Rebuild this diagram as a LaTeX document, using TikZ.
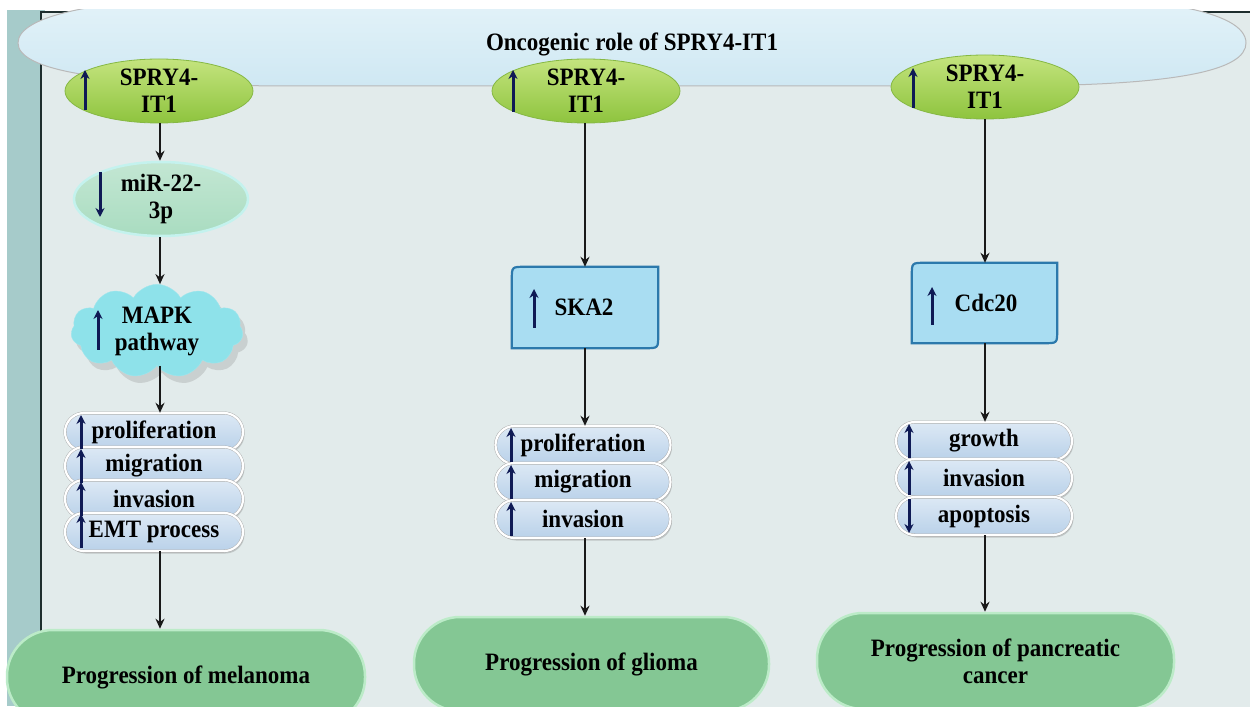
\documentclass[tikz,border=0pt]{standalone}
\usepackage{fontspec}
\setmainfont{Liberation Serif}[FakeStretch=0.92]
\usetikzlibrary{shapes.geometric,shapes.symbols,shapes.misc,arrows.meta,shadows,calc}
\definecolor{tealstrip}{HTML}{A6CBCA}
\definecolor{panelc}{HTML}{E2EBEB}
\definecolor{panelborder}{HTML}{1E2E2E}
\definecolor{topell}{HTML}{CFE8F3}
\definecolor{topelllight}{HTML}{E4F3F9}
\definecolor{grtop}{HTML}{C4E47E}
\definecolor{grbot}{HTML}{8EC43E}
\definecolor{grborder}{HTML}{86B844}
\definecolor{mirfill}{HTML}{A9DCC0}
\definecolor{mirborder}{HTML}{C4F2EE}
\definecolor{cloudc}{HTML}{8EE2EA}
\definecolor{boxfill}{HTML}{A9DDF2}
\definecolor{boxborder}{HTML}{2C79AC}
\definecolor{pilltop}{HTML}{DDE9F5}
\definecolor{pillbot}{HTML}{B9D1E9}
\definecolor{bigfill}{HTML}{84C794}
\definecolor{bigborder}{HTML}{BCEBC8}
\definecolor{navy}{HTML}{0F1A55}
\tikzset{
  lab/.style={font=\bfseries\fontsize{25}{27}\selectfont, text=black, align=center},
  spry/.style={ellipse, lab, minimum width=188pt, minimum height=64pt, inner sep=0pt,
    top color=grtop, bottom color=grbot, draw=grborder, line width=0.8pt},
  mirnode/.style={ellipse, lab, minimum width=174pt, minimum height=74pt, inner sep=0pt,
    top color=mirfill!70!white, bottom color=mirfill, draw=mirborder, line width=2.5pt},
  cloudnode/.style={cloud, cloud puffs=11, cloud puff arc=120, aspect=2.4, lab,
    minimum width=172pt, minimum height=72pt, inner sep=0pt, fill=cloudc, draw=cloudc!85!white,
    drop shadow={opacity=0.25, shadow xshift=5pt, shadow yshift=-7pt}},
  boxnode/.style={rectangle, lab, inner sep=0pt},
  boxshape/.style={fill=boxfill, draw=boxborder, line width=2.2pt},
  pill/.style={rectangle, rounded corners=19pt, lab, minimum height=38pt, inner sep=0pt,
    top color=pilltop, bottom color=pillbot, draw=gray!70, double=white, double distance=2.2pt,
    drop shadow={opacity=0.35, shadow xshift=1.5pt, shadow yshift=-2.5pt}},
  bigpill/.style={rectangle, rounded corners=46pt, lab,
    inner sep=0pt, fill=bigfill, draw=bigborder, line width=2.5pt},
  conn/.style={draw=black!90, line width=2pt, -{Stealth[length=10pt,width=9pt]}},
  indic/.style={draw=navy, line width=3pt, -{Stealth[length=9pt,width=9pt]}}
}
\begin{document}
\begin{tikzpicture}[x=1pt,y=-1pt]
\useasboundingbox (0,0) rectangle (1250,708);
\fill[white] (0,0) rectangle (1250,708);
\begin{scope}
\clip (0,10) rectangle (1250,706);
% background panel
\fill[tealstrip] (7,10) rectangle (45,706);
\filldraw[fill=panelc, draw=panelborder, line width=1.2pt] (41,12) rectangle (1262,720);
% top ellipse
\path[top color=topelllight, bottom color=topell, draw=gray!55, line width=1pt]
  (18,43) .. controls (18,70) and (100,86) .. (300,86) -- (1000,86)
  .. controls (1180,86) and (1246,70) .. (1246,43)
  .. controls (1246,10) and (1150,-5) .. (1000,-5) -- (300,-5)
  .. controls (100,-5) and (18,15) .. (18,43) -- cycle;
\node[lab] (title) at (632,44) {Oncogenic role of SPRY4-IT1};

% ===== column 1 =====
\node[spry] (s1) at (159,91) {SPRY4-\\IT1};
\node[mirnode] (m1) at (161,199) {miR-22-\\3p};
\node[cloudnode] (k1) at (157,331) {MAPK\\pathway};
\node[pill, minimum width=178pt] (p1a) at (154,432) {proliferation};
\node[pill, minimum width=178pt] (p1b) at (154,466) {migration};
\node[pill, minimum width=178pt] (p1c) at (154,499) {invasion};
\node[pill, minimum width=178pt] (p1d) at (154,532) {EMT process};
\node[bigpill, minimum width=358pt, minimum height=94pt] (g1) at (186,677) {Progression of melanoma};

\draw[conn] (s1.south -| 160,0) -- (m1.north -| 160,0);
\draw[conn] (m1.south -| 160,0) -- (k1.north -| 160,0);
\draw[conn] (k1.south -| 160,0) -- (p1a.north -| 160,0);
\draw[conn] (p1d.south -| 160,0) -- (g1.north -| 160,0);

\draw[indic] (85,110) -- (85,70);
\draw[indic] (100,172) -- (100,217);
\draw[indic] (98,350) -- (98,310);
\draw[indic] (81,449) -- (81,415);
\draw[indic] (81,483) -- (81,449);
\draw[indic] (81,516) -- (81,482);
\draw[indic] (81,548) -- (81,514);

% ===== column 2 =====
\node[spry] (s2) at (586,91) {SPRY4-\\IT1};
\node[boxnode, minimum width=146pt, minimum height=81pt] (b2) at (585,307.5) {};
\path[boxshape] (b2.south west) -- ([yshift=-13pt]b2.north west)
  .. controls (b2.north west) .. ([xshift=13pt]b2.north west)
  -- (b2.north east) -- ([yshift=13pt]b2.south east)
  .. controls (b2.south east) .. ([xshift=-13pt]b2.south east) -- cycle;
\node[lab] (t2) at (584,307) {SKA2};
\node[pill, minimum width=175pt] (q2a) at (583,445) {proliferation};
\node[pill, minimum width=175pt] (q2b) at (583,482) {migration};
\node[pill, minimum width=175pt] (q2c) at (583,519) {invasion};
\node[bigpill, minimum width=355pt, minimum height=94pt] (g2) at (591.5,664) {Progression of glioma};

\draw[conn] (s2.south -| 585,0) -- (b2.north -| 585,0);
\draw[conn] (b2.south -| 585,0) -- (q2a.north -| 585,0);
\draw[conn] (q2c.south -| 585,0) -- (g2.north -| 585,0);

\draw[indic] (513,112) -- (513,70);
\draw[indic] (534,328) -- (534,289);
\draw[indic] (511,462) -- (511,428);
\draw[indic] (511,499) -- (511,465);
\draw[indic] (511,536) -- (511,502);

% ===== column 3 =====
\node[spry] (s3) at (985,87) {SPRY4-\\IT1};
\node[boxnode, minimum width=145pt, minimum height=80pt] (b3) at (984.5,303) {};
\path[boxshape] (b3.south west) -- ([yshift=-13pt]b3.north west)
  .. controls (b3.north west) .. ([xshift=13pt]b3.north west)
  -- (b3.north east) -- ([yshift=13pt]b3.south east)
  .. controls (b3.south east) .. ([xshift=-13pt]b3.south east) -- cycle;
\node[lab] (t3) at (986,303) {Cdc20};
\node[pill, minimum width=176pt] (r3a) at (984,441) {growth};
\node[pill, minimum width=176pt] (r3b) at (984,478) {invasion};
\node[pill, minimum width=176pt] (r3c) at (984,516) {apoptosis};
\node[bigpill, minimum width=357pt, minimum height=96pt] (g3) at (995.5,661) {Progression of pancreatic\\cancer};

\draw[conn] (s3.south -| 985,0) -- (b3.north -| 985,0);
\draw[conn] (b3.south -| 985,0) -- (r3a.north -| 985,0);
\draw[conn] (r3c.south -| 985,0) -- (g3.north -| 985,0);

\draw[indic] (913,108) -- (913,68);
\draw[indic] (932,325) -- (932,287);
\draw[indic] (909,458) -- (909,424);
\draw[indic] (909,495) -- (909,461);
\draw[indic] (909,499) -- (909,533);
\end{scope}
\end{tikzpicture}
\end{document}
